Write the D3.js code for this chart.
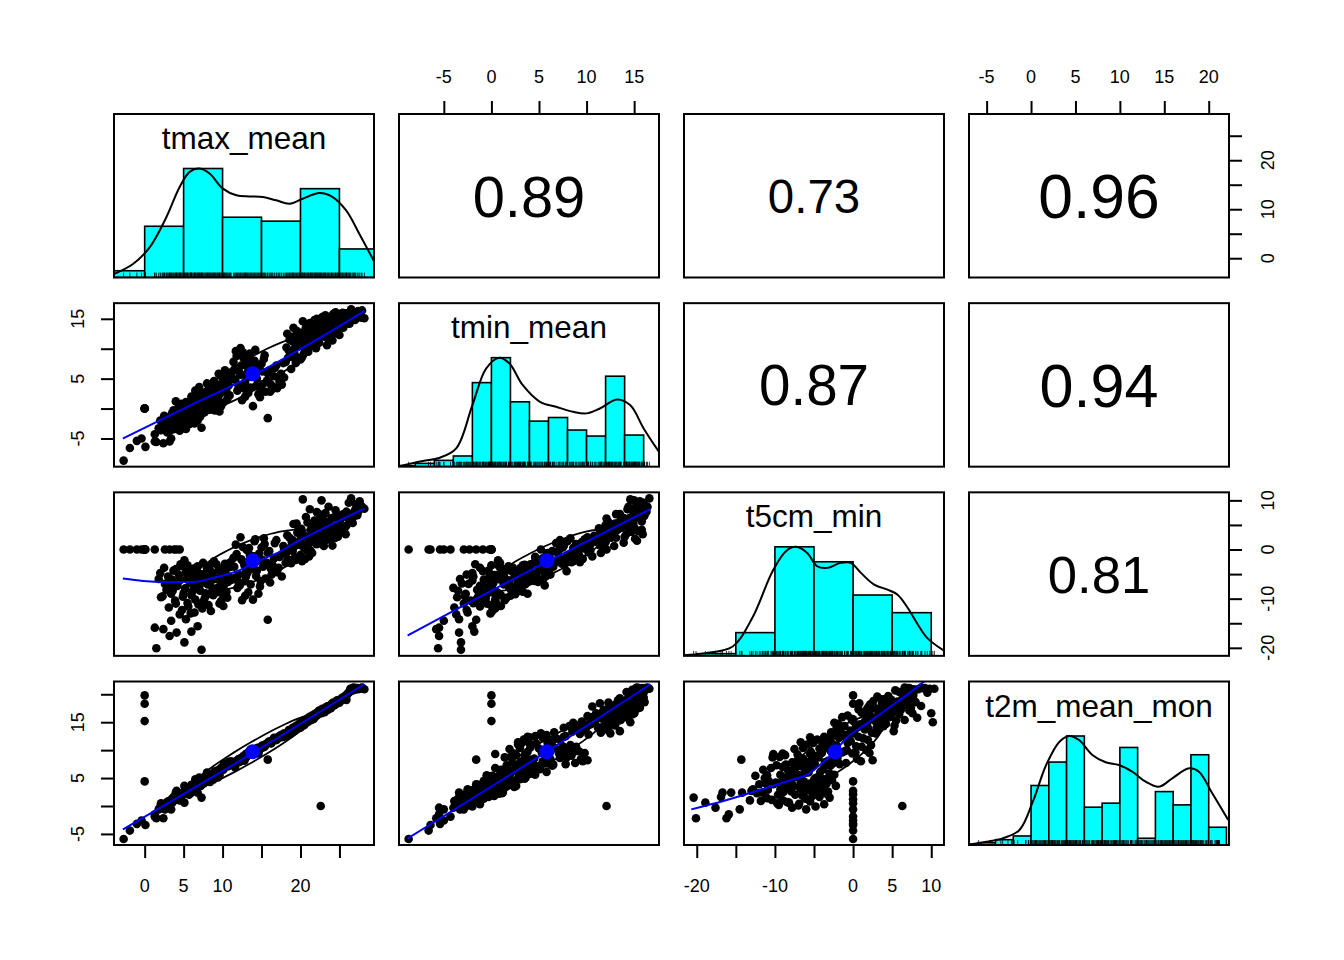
<!DOCTYPE html>
<html>
<head>
<meta charset="utf-8">
<script src="https://cdn.jsdelivr.net/npm/d3@7"></script>
<style>
  body { margin: 0; background: #fff; }
  svg { display: block; }
  text { font-family: "Liberation Sans", Arial, Helvetica, sans-serif; fill: #000; }
</style>
</head>
<body>
<svg id="chart" width="1344" height="960"></svg>
<script>
const varNames = ['tmax_mean', 'tmin_mean', 't5cm_min', 't2m_mean_mon'];

// one row per observation: tmax_mean, tmin_mean, t5cm_min, t2m_mean_mon
const obsRows = [
    // rows where the missing values were stored as 0
    [0, 0, 0, 19.8], [0, 0, 0, 18.3], [0, 0, 0, 15.2], [0, 0, 0, 4.4], [22.6, 12.1, 6.3, 0],
    // snow cover, soil at 0
    [-2.7, -8.7, 0, -5.9], [-1.9, -6.6, 0, -4.4], [-1.0, -5.4, 0, -3.2], [0.1, -6.4, 0, -3.4],
    [1.3, -4.3, 0, -1.9], [2.6, -2.9, 0, -0.6], [3.2, -2.3, 0, 0.5], [3.8, -1.6, 0, 1.2],
    [4.5, -0.9, 0, 2.1], [4.1, -0.2, 0, 2.7], [-0.4, -5.0, 0, -2.6],
    // very cold soil
    [1.5, -5.6, -20.1, -2.2], [7.3, -3.2, -20.4, 1.5], [5.1, -3.2, -18.9, 0.6], [1.3, -5.5, -15.9, -1.5],
    [3.2, -5.5, -17.6, -0.3], [4.1, -3.4, -16.9, 1.6], [6.0, -1.8, -16.7, 2.4], [6.8, -2.0, -15.6, 2.4],
    [3.4, -5.0, -14.5, -0.6], [4.5, -3.7, -13.2, 1.0], [5.3, -3.4, -14.2, 2.4], [6.4, -2.5, -12.8, 3.0],
    [2.1, -3.6, -9.7, 0.5], [15.8, -1.6, -14.3, 8.3], [2.4, -5.8, -16.2, -2.2],
    // cold months
    [2.3, -2.8, -9.5, 0.2], [2.8, -1.5, -8.2, 0.6], [3.1, -3.9, -11.8, 0.9], [3.5, -0.8, -6.1, 1.3],
    [3.9, -2.2, -10.4, 1.1], [4.2, -1.2, -7.4, 2.0], [4.4, 0.3, -5.2, 1.8], [4.8, -2.6, -12.3, 2.3],
    [5.0, -0.4, -8.9, 2.5], [5.3, 1.1, -4.6, 2.3], [5.5, -1.9, -10.9, 2.9], [5.8, 0.2, -6.8, 3.2],
    [6.0, -1.0, -9.3, 3.0], [6.2, 1.6, -3.9, 3.5], [6.4, -0.3, -7.7, 3.7], [6.6, 2.4, -5.6, 3.4],
    [6.9, 0.6, -11.2, 4.1], [7.1, -1.4, -8.4, 3.8], [7.3, 1.9, -6.3, 4.4], [7.5, 0.9, -2.7, 4.6],
    [7.7, -0.6, -9.9, 4.2], [7.9, 2.8, -4.8, 5.0], [8.1, 1.3, -7.1, 5.2], [8.3, 3.5, -3.3, 4.9],
    [8.5, 0.1, -12.5, 5.4], [8.7, 2.0, -8.0, 5.8], [8.9, 4.6, -2.4, 5.6], [9.1, 1.5, -6.0, 6.0],
    [9.3, 3.1, -8.3, 6.3], [9.5, 5.8, -4.2, 6.1], [9.7, 2.5, -7.5, 6.6], [9.9, 4.0, -5.3, 6.9],
    [10.1, 1.0, -11.5, 6.5], [10.3, 6.4, -2.9, 7.2], [10.5, 3.3, -8.6, 7.4], [10.7, 4.9, -6.6, 7.1],
    [10.9, 2.2, -3.6, 7.8], [11.1, 5.4, -6.2, 8.0], [3.3, -3.1, -6.9, 0.4], [4.6, -1.7, -3.0, 1.5],
    [5.7, -2.6, -5.1, 2.0], [6.7, -0.9, -4.4, 3.0], [7.4, 0.4, -12.0, 3.9], [8.4, -0.2, -6.4, 4.3],
    [9.4, 0.6, -8.7, 5.1], [2.9, -4.0, -7.8, -0.3], [5.1, 0.7, -2.2, 3.6], [6.5, 3.0, -3.8, 4.8],
    [8.0, 4.2, -5.7, 6.0], [9.6, -0.5, -11.0, 5.5], [4.0, 1.2, -4.0, 2.4], [5.9, -0.1, -13.0, 2.7],
    [7.0, 3.6, -7.0, 5.1], [8.8, 0.8, -5.0, 4.7], [10.0, 3.8, -9.0, 7.0], [2.0, -2.0, -4.8, -0.1],
    [2.5, -1.2, -3.7, 0.3], [1.8, -3.3, -6.0, -0.6],
    [2.6, -2.4, -7.0, 0.1], [3.0, -1.9, -5.5, 0.8], [3.4, -2.7, -9.0, 1.0], [3.7, -0.3, -4.3, 1.6],
    [4.0, -2.9, -11.0, 1.4], [4.3, -0.7, -6.5, 1.9], [4.7, 0.8, -3.4, 2.2], [4.9, -1.4, -9.6, 2.0],
    [5.2, -0.9, -7.9, 2.6], [5.4, 0.6, -5.9, 2.8], [5.6, -1.2, -11.6, 2.4], [5.9, 1.3, -4.9, 3.1],
    [6.1, -0.6, -8.6, 3.4], [6.3, 0.9, -6.1, 3.2], [6.5, -1.6, -10.2, 3.9], [6.8, 1.8, -3.4, 4.0],
    [7.0, 0.1, -7.9, 4.3], [7.2, 2.6, -5.0, 3.6], [7.4, -0.8, -10.8, 4.5], [7.6, 1.5, -6.7, 4.1],
    [7.8, 0.3, -8.9, 4.8], [8.0, 2.1, -3.9, 4.6], [8.2, -0.1, -11.3, 5.0], [8.4, 1.8, -6.9, 5.5],
    [8.6, 3.0, -4.6, 5.1], [8.8, 1.0, -9.3, 5.6], [9.0, 2.7, -5.8, 6.2], [9.2, 4.1, -3.0, 5.8],
    [9.4, 1.9, -7.8, 6.4], [9.6, 3.4, -6.2, 6.0], [9.8, 0.4, -10.5, 6.8], [10.0, 5.1, -3.8, 6.6],
    [10.2, 2.8, -7.2, 7.0], [10.4, 4.4, -4.9, 7.5], [10.6, 1.6, -9.8, 7.3], [10.8, 3.9, -5.6, 7.9],
    [11.0, 6.0, -2.6, 7.6], [3.6, -3.5, -8.4, 0.7], [4.5, -2.0, -6.3, 1.7], [5.5, 0.0, -3.2, 2.6],
    [6.0, 2.0, -4.3, 3.8], [7.1, -0.2, -5.5, 4.0], [8.1, 2.5, -9.1, 4.4], [9.0, -0.3, -8.0, 5.3],
    [10.2, 5.6, -5.5, 7.6],
    // spring and autumn
    [11.4, 7.8, -1.7, 7.5], [11.7, 9.6, 1.0, 8.0], [11.9, 3.0, -7.8, 7.8], [12.1, 6.2, -5.1, 8.4],
    [12.3, 10.1, 2.5, 8.2], [12.5, 1.4, -10.3, 8.7], [12.7, 8.4, -2.6, 9.0], [12.9, 4.5, -6.4, 8.5],
    [13.1, 7.1, -0.1, 9.4], [13.3, 2.6, -8.7, 9.1], [13.5, 9.2, -1.1, 9.8], [13.7, 5.3, -4.0, 9.5],
    [13.9, 0.4, -10.2, 9.3], [14.1, 8.0, 1.7, 10.0], [14.3, 3.8, -5.4, 9.7], [14.5, 6.6, -2.3, 10.4],
    [14.8, 1.9, -7.5, 10.2], [15.0, 7.5, 0.4, 10.7], [15.2, 4.1, -3.5, 10.5], [15.5, 2.8, -5.9, 11.0],
    [15.8, 5.9, -0.7, 11.3], [16.1, 2.8, -6.7, 11.4], [16.4, 3.5, -3.1, 11.8], [16.7, 6.8, 1.3, 12.1],
    [17.0, 3.4, -4.6, 11.9], [17.3, 4.6, -1.5, 12.5], [17.6, 4.0, -5.5, 12.3], [17.9, 5.2, 0.0, 13.0],
    [12.2, 5.6, -7.3, 7.9], [13.0, 7.9, -4.4, 8.7], [14.0, 6.1, -1.4, 9.6], [14.6, 2.4, -9.0, 9.4],
    [15.3, 8.3, 2.3, 10.9], [16.2, 4.0, -3.9, 11.2], [11.6, 4.8, -5.7, 6.9], [12.8, 3.3, -3.2, 8.1],
    [11.5, 6.5, -3.5, 7.4], [11.8, 8.8, -0.9, 7.7], [12.0, 4.0, -6.5, 8.3], [12.4, 7.2, -2.0, 8.6],
    [12.6, 9.4, 0.5, 8.4], [12.9, 2.0, -9.4, 8.8], [13.2, 6.0, -4.7, 9.0], [13.4, 8.6, 0.3, 9.6],
    [13.6, 3.5, -7.1, 9.2], [13.8, 7.4, -2.9, 9.9], [14.2, 9.8, 2.1, 9.5], [14.4, 5.0, -4.3, 10.3],
    [14.7, 7.0, -0.8, 10.0], [14.9, 3.0, -6.4, 10.4], [15.1, 6.2, -2.1, 10.8], [15.4, 8.9, 1.1, 10.6],
    [15.7, 4.7, -2.7, 11.2], [16.0, 6.4, -0.3, 11.6], [16.3, 3.2, -5.1, 11.3], [16.6, 5.4, -1.8, 12.2],
    [16.9, 7.2, 1.9, 11.8], [17.2, 3.8, -3.7, 12.4], [17.5, 5.8, -1.1, 12.7], [17.8, 7.6, 0.7, 12.4],
    [13.0, 5.7, -5.5, 9.3],
    // summer months
    [18.1, 7.8, -2.7, 12.5], [18.3, 12.5, 2.9, 13.0], [18.5, 9.7, 0.2, 13.6], [18.8, 6.6, -2.8, 13.2],
    [19.0, 11.2, 1.9, 14.0], [19.3, 8.9, -1.6, 13.8], [19.5, 13.0, 5.3, 14.4], [19.8, 10.4, 1.0, 14.6],
    [20.0, 8.2, -1.1, 14.3], [20.3, 14.6, 10.2, 15.0], [20.5, 10.8, 2.8, 15.2], [20.8, 12.1, 0.0, 15.5],
    [21.0, 9.5, 1.5, 15.1], [21.3, 13.2, 4.0, 16.0], [21.5, 11.5, -0.7, 16.2], [21.8, 14.8, 5.9, 16.4],
    [22.0, 10.1, 2.3, 16.1], [22.3, 12.4, 4.8, 16.9], [22.5, 14.2, 3.2, 17.0], [22.7, 15.0, 10.0, 16.6],
    [23.0, 12.9, 0.7, 17.3], [23.2, 15.6, 7.4, 17.6], [23.5, 11.8, 3.6, 17.2], [23.8, 13.6, 5.2, 18.0],
    [24.0, 15.1, 2.2, 18.2], [24.3, 12.6, 4.4, 18.0], [24.5, 16.1, 8.0, 18.6], [24.8, 14.0, 2.6, 18.8],
    [25.0, 12.3, 5.6, 18.5], [25.3, 15.4, 3.8, 19.1], [25.5, 13.5, 7.2, 19.3], [25.8, 15.9, 3.1, 19.6],
    [26.0, 15.0, 7.4, 20.0], [26.3, 14.2, 5.9, 20.4], [26.5, 16.6, 10.4, 21.0], [26.8, 15.3, 6.6, 21.2],
    [27.0, 14.8, 8.0, 20.8], [27.3, 16.1, 7.0, 21.1], [27.6, 15.6, 9.8, 21.0], [27.9, 16.4, 8.7, 21.2],
    [28.2, 15.1, 8.3, 20.9], [18.7, 9.3, -2.6, 12.9], [19.6, 11.6, 3.4, 13.9], [20.6, 9.6, -1.9, 14.7],
    [21.2, 14.3, 8.2, 15.8], [22.1, 11.6, 1.1, 16.7], [23.4, 10.6, 2.0, 17.8], [24.6, 14.7, 3.7, 18.3],
    [25.9, 14.2, 4.9, 19.0], [19.1, 13.5, 5.2, 13.4], [20.2, 8.6, -2.4, 14.9], [21.7, 12.7, 2.7, 15.6],
    [20.1, 11.9, 4.2, 14.7], [20.4, 9.1, 0.4, 14.4], [20.9, 13.4, 5.5, 15.3], [21.1, 10.6, -1.4, 15.9],
    [21.4, 12.2, 3.0, 15.4], [21.9, 13.9, 1.4, 16.5], [22.2, 11.3, 4.3, 16.3], [22.4, 13.1, 7.2, 17.1],
    [22.8, 15.3, 1.8, 17.4], [23.1, 12.0, 5.0, 16.8], [23.6, 14.4, 8.7, 17.9], [23.9, 12.8, 2.8, 17.5],
    [24.1, 11.4, 0.8, 18.4], [24.4, 15.5, 6.6, 18.1], [24.7, 13.3, 4.1, 18.9], [24.9, 15.8, 5.7, 18.7],
    [25.2, 14.5, 6.3, 19.2], [25.7, 15.0, 4.5, 19.7], [26.2, 16.0, 9.5, 20.3], [26.9, 15.5, 7.2, 21.1],
    [18.2, 10.2, -0.6, 12.8], [18.4, 8.5, -2.0, 13.3], [18.6, 11.5, 2.4, 13.1], [18.9, 12.0, 1.5, 13.7],
    [19.2, 10.0, 0.6, 14.1], [19.4, 7.6, -2.1, 14.0], [19.7, 12.4, 3.9, 14.3], [19.9, 10.9, 1.8, 14.8],
    [20.2, 12.7, 3.3, 15.1], [20.5, 10.2, 0.8, 14.6], [20.7, 13.6, 6.6, 15.4], [21.0, 11.6, 2.2, 15.7],
    [21.3, 10.4, -0.2, 15.6], [21.6, 14.2, 4.8, 16.1], [21.9, 12.3, 3.4, 16.0], [22.1, 15.0, 7.6, 16.6],
    [22.4, 11.0, 1.6, 16.6], [22.6, 13.4, 4.6, 16.9], [22.9, 14.1, 6.1, 17.2], [23.2, 12.6, 2.4, 17.5],
    [23.4, 14.9, 5.6, 17.7], [23.7, 12.4, 3.2, 17.4], [24.0, 13.9, 6.4, 18.0], [24.2, 15.8, 4.0, 18.5],
    [24.5, 13.1, 2.4, 18.2], [24.8, 15.2, 7.0, 18.6], [25.1, 13.6, 4.4, 18.8], [25.4, 16.0, 6.7, 19.4],
    [25.6, 14.7, 3.6, 19.1], [25.9, 15.5, 7.7, 19.8], [26.1, 14.5, 6.4, 20.2], [26.4, 16.0, 7.2, 21.0],
    [26.7, 14.9, 5.4, 20.7], [27.1, 15.8, 9.2, 21.1], [27.4, 16.3, 7.7, 20.9], [27.8, 15.2, 8.8, 21.1],
    [19.0, 8.6, -0.3, 13.5], [20.0, 11.4, 3.0, 14.0], [21.5, 13.0, 4.6, 15.9], [23.0, 14.5, 3.7, 17.0]
];

// correlations printed in the upper panels
const corrMatrix = [
    [1, 0.89, 0.73, 0.96],
    [0.89, 1, 0.87, 0.94],
    [0.73, 0.87, 1, 0.81],
    [0.96, 0.94, 0.81, 1]
];

// histograms, heights scaled so the tallest bar is 1
const tmaxHistBreaks = [-5, 0, 5, 10, 15, 20, 25, 30];
const tmaxHistHeights = [0.062, 0.47, 1, 0.553, 0.517, 0.815, 0.262];
const tminHistBreaks = [-10, -8, -6, -4, -2, 0, 2, 4, 6, 8, 10, 12, 14, 16];
const tminHistHeights = [0.01, 0.03, 0.058, 0.098, 0.771, 1, 0.595, 0.418, 0.451, 0.336, 0.281, 0.83, 0.29];
const t5cmHistBreaks = [-25, -20, -15, -10, -5, 0, 5, 10];
const t5cmHistHeights = [0.01, 0.02, 0.213, 1, 0.863, 0.558, 0.396];
const t2mHistBreaks = [-8, -6, -4, -2, 0, 2, 4, 6, 8, 10, 12, 14, 16, 18, 20, 22];
const t2mHistHeights = [0.009, 0.021, 0.049, 0.083, 0.546, 0.761, 1, 0.347, 0.384, 0.895, 0.062, 0.49, 0.368, 0.828, 0.163];

// density curves, peak scaled to 1
const tmaxDensity = [[-3.97, 0.031], [-1.5, 0.124], [0.64, 0.277], [2.78, 0.553], [4.49, 0.83], [5.77, 0.969],
    [7.05, 1], [8.33, 0.954], [10.04, 0.815], [11.76, 0.754], [13.46, 0.744], [15.17, 0.738], [16.88, 0.708],
    [18.59, 0.677], [20.29, 0.723], [22.44, 0.775], [24.14, 0.738], [25.86, 0.615], [27.56, 0.4], [29.4, 0.154]];
const tminDensity = [[-9.7, 0.005], [-7.2, 0.052], [-5.5, 0.08], [-3.7, 0.168], [-2.0, 0.564], [-0.56, 0.9],
    [0.84, 1], [1.9, 0.946], [3.3, 0.747], [5.1, 0.595], [6.8, 0.549], [8.6, 0.503], [10.0, 0.489],
    [11.4, 0.534], [13.2, 0.617], [14.6, 0.564], [16.0, 0.351], [17.6, 0.137]];
const t5cmDensity = [[-21.9, 0.005], [-18.9, 0.025], [-15.4, 0.086], [-12.9, 0.347], [-10.3, 0.776], [-8.6, 0.96],
    [-7.3, 1], [-5.9, 0.945], [-4.6, 0.822], [-3.3, 0.807], [-1.6, 0.853], [-0.3, 0.853], [1.0, 0.761],
    [2.7, 0.653], [4.4, 0.607], [5.7, 0.561], [7.0, 0.439], [8.3, 0.285], [9.5, 0.163], [11.6, 0.049]];
const t2mDensity = [[-7.0, 0.005], [-5.0, 0.03], [-3.2, 0.061], [-1.3, 0.138], [0.2, 0.397], [1.7, 0.734],
    [3.2, 0.948], [4.3, 1], [5.4, 0.963], [6.9, 0.826], [8.4, 0.759], [9.9, 0.734], [11.4, 0.672],
    [12.9, 0.581], [14.4, 0.535], [15.9, 0.612], [17.8, 0.704], [18.9, 0.672], [20.4, 0.474], [22.2, 0.229]];

// loess smooths (x variable, y variable)
const loessTmaxTmin = [[-2.8, -5.0], [5, 0], [13.9, 5.55], [21, 10.7], [28.2, 16.3]];
const loessTmaxT5cm = [[-2.8, -5.9], [-0.2, -6.4], [2.8, -6.6], [6.2, -6.6], [9.2, -5.6], [12.2, -4.2],
    [13.9, -2.8], [16.9, -0.8], [19.9, 1.9], [23.3, 4.6], [25.9, 6.6], [28.2, 8.3]];
const loessTminT5cm = [[-8.8, -17.5], [5.5, -2.8], [16.7, 8.2]];
const loessTmaxT2m = [[-2.8, -4.2], [13.9, 9.5], [28.2, 21.8]];
const loessTminT2m = [[-8.8, -5.8], [5.6, 9.5], [16.7, 21.8]];
const loessT5cmT2m = [[-20.7, -0.6], [-16.6, 0.9], [-12.3, 2.7], [-8.0, 4.6], [-5.9, 5.6], [-4.2, 7.4],
    [-2.5, 9.5], [-0.8, 12.2], [1.8, 14.8], [4.8, 17.8], [6.9, 19.9], [9.1, 22.3]];

const histBreaks = [tmaxHistBreaks, tminHistBreaks, t5cmHistBreaks, t2mHistBreaks];
const histHeights = [tmaxHistHeights, tminHistHeights, t5cmHistHeights, t2mHistHeights];
const densities = [tmaxDensity, tminDensity, t5cmDensity, t2mDensity];
const loessCurves = {
    '1-0': loessTmaxTmin, '2-0': loessTmaxT5cm, '2-1': loessTminT5cm,
    '3-0': loessTmaxT2m, '3-1': loessTminT2m, '3-2': loessT5cmT2m
};

const nVars = 4;
const gridLeft = 114, gridTop = 114, cellW = 260, cellH = 163.5, gapX = 25, gapY = 25.67;
const svg = d3.select('#chart');

const columns = d3.range(nVars).map(k => obsRows.map(r => r[k]));
// R pads the data range by 4% on each side
const domains = columns.map(v => {
    const e = d3.extent(v), p = (e[1] - e[0]) * 0.04;
    return [e[0] - p, e[1] + p];
});
const xScales = domains.map(d => d3.scaleLinear().domain(d).range([0, cellW]));
const yScales = domains.map(d => d3.scaleLinear().domain(d).range([cellH, 0]));
const means = columns.map(v => d3.mean(v));
const sds = columns.map(v => d3.deviation(v));
const histY = d3.scaleLinear().domain([0, 1.5]).range([cellH, 0]);

svg.append('defs').append('clipPath').attr('id', 'cell')
    .append('rect').attr('width', cellW).attr('height', cellH);

const measureCtx = document.createElement('canvas').getContext('2d');
measureCtx.font = '18px "Liberation Sans", Arial, sans-serif';

function drawDiag(g, inner, k) {
    const x = xScales[k];
    const br = histBreaks[k];
    inner.selectAll('rect.bar')
        .data(histHeights[k])
        .join('rect')
        .attr('x', (d, b) => x(br[b]))
        .attr('width', (d, b) => x(br[b + 1]) - x(br[b]))
        .attr('y', d => histY(d))
        .attr('height', d => cellH - histY(d))
        .attr('fill', '#00ffff')
        .attr('stroke', '#000')
        .attr('stroke-width', 1.6);
    inner.append('path')
        .datum(densities[k])
        .attr('d', d3.line().x(d => x(d[0])).y(d => histY(d[1])).curve(d3.curveCatmullRom))
        .attr('fill', 'none')
        .attr('stroke', '#000')
        .attr('stroke-width', 2);
    // rug
    inner.selectAll('line.rug')
        .data(columns[k])
        .join('line')
        .attr('x1', v => x(v)).attr('x2', v => x(v))
        .attr('y1', cellH).attr('y2', cellH - 0.03 * cellH)
        .attr('stroke', '#000')
        .attr('stroke-width', 0.8);
    g.append('text')
        .attr('x', cellW / 2)
        .attr('y', 35)
        .attr('text-anchor', 'middle')
        .attr('font-size', 31.5)
        .text(varNames[k]);
}

function drawScatter(inner, xv, yv) {
    const x = xScales[xv], y = yScales[yv];
    inner.selectAll('circle.pt')
        .data(obsRows)
        .join('circle')
        .attr('cx', r => x(r[xv]))
        .attr('cy', r => y(r[yv]))
        .attr('r', 4.3)
        .attr('fill', '#000');
    // correlation ellipse, one sd around the means (as psych draws it)
    const r = corrMatrix[yv][xv], th = 1 / Math.SQRT2;
    const s1 = Math.sqrt(1 + r), s2 = Math.sqrt(1 - r);
    const ell = d3.range(52).map(s => {
        const a = s * 2 * Math.PI / 51, c = Math.cos(a), sn = Math.sin(a);
        return [means[xv] + sds[xv] * th * (s1 * c - s2 * sn), means[yv] + sds[yv] * th * (s1 * c + s2 * sn)];
    });
    inner.append('path')
        .datum(ell)
        .attr('d', d3.line().x(d => x(d[0])).y(d => y(d[1])))
        .attr('fill', 'none')
        .attr('stroke', '#000')
        .attr('stroke-width', 1.8);
    inner.append('path')
        .datum(loessCurves[yv + '-' + xv])
        .attr('d', d3.line().x(d => x(d[0])).y(d => y(d[1])).curve(d3.curveMonotoneX))
        .attr('fill', 'none')
        .attr('stroke', '#0000ff')
        .attr('stroke-width', 2);
    inner.append('circle')
        .attr('cx', x(means[xv]))
        .attr('cy', y(means[yv]))
        .attr('r', 7.5)
        .attr('fill', '#0000ff');
}

function drawCorr(g, r) {
    g.append('text')
        .attr('x', cellW / 2)
        .attr('y', cellH / 2)
        .attr('dy', '0.36em')
        .attr('text-anchor', 'middle')
        .attr('font-size', 65 * r)
        .text(r.toFixed(2));
}

function drawAxis(g, side, scale) {
    const gen = side === 'top' ? d3.axisTop(scale) : side === 'bottom' ? d3.axisBottom(scale)
        : side === 'left' ? d3.axisLeft(scale) : d3.axisRight(scale);
    gen.ticks(5).tickSize(13).tickSizeOuter(0).tickFormat('');
    const ag = g.append('g');
    if (side === 'bottom') ag.attr('transform', `translate(0,${cellH})`);
    if (side === 'right') ag.attr('transform', `translate(${cellW},0)`);
    ag.call(gen);
    ag.select('.domain').remove();
    ag.selectAll('.tick line').attr('stroke', '#000').attr('stroke-width', 2);

    // labels: skip one that comes too close to the last one drawn, like R does
    let last = null;
    scale.ticks(5).forEach(v => {
        const txt = String(v);
        const w = measureCtx.measureText(txt).width;
        const p = scale(v);
        const a = p - w / 2, b = p + w / 2;
        if (last && Math.max(a - last[1], last[0] - b) < 21) return;
        last = [a, b];
        const t = g.append('text').attr('font-size', 18).attr('text-anchor', 'middle').text(txt);
        if (side === 'top') t.attr('x', p).attr('y', -30.7);
        else if (side === 'bottom') t.attr('x', p).attr('y', cellH + 46.5);
        else if (side === 'left') t.attr('transform', `translate(-30,${p}) rotate(-90)`);
        else t.attr('transform', `translate(${cellW + 44.5},${p}) rotate(-90)`);
    });
}

for (let i = 0; i < nVars; i++) {
    for (let j = 0; j < nVars; j++) {
        const g = svg.append('g')
            .attr('transform', `translate(${gridLeft + j * (cellW + gapX)},${gridTop + i * (cellH + gapY)})`);
        const inner = g.append('g').attr('clip-path', 'url(#cell)');
        if (i === j) drawDiag(g, inner, i);
        else if (i > j) drawScatter(inner, j, i);
        else drawCorr(g, corrMatrix[i][j]);
        g.append('rect')
            .attr('width', cellW)
            .attr('height', cellH)
            .attr('fill', 'none')
            .attr('stroke', '#000')
            .attr('stroke-width', 2);
        if (i === 0 && j % 2 === 1) drawAxis(g, 'top', xScales[j]);
        if (i === nVars - 1 && j % 2 === 0) drawAxis(g, 'bottom', xScales[j]);
        if (j === 0 && i % 2 === 1) drawAxis(g, 'left', yScales[i]);
        if (j === nVars - 1 && i % 2 === 0) drawAxis(g, 'right', yScales[i]);
    }
}
</script>
</body>
</html>
